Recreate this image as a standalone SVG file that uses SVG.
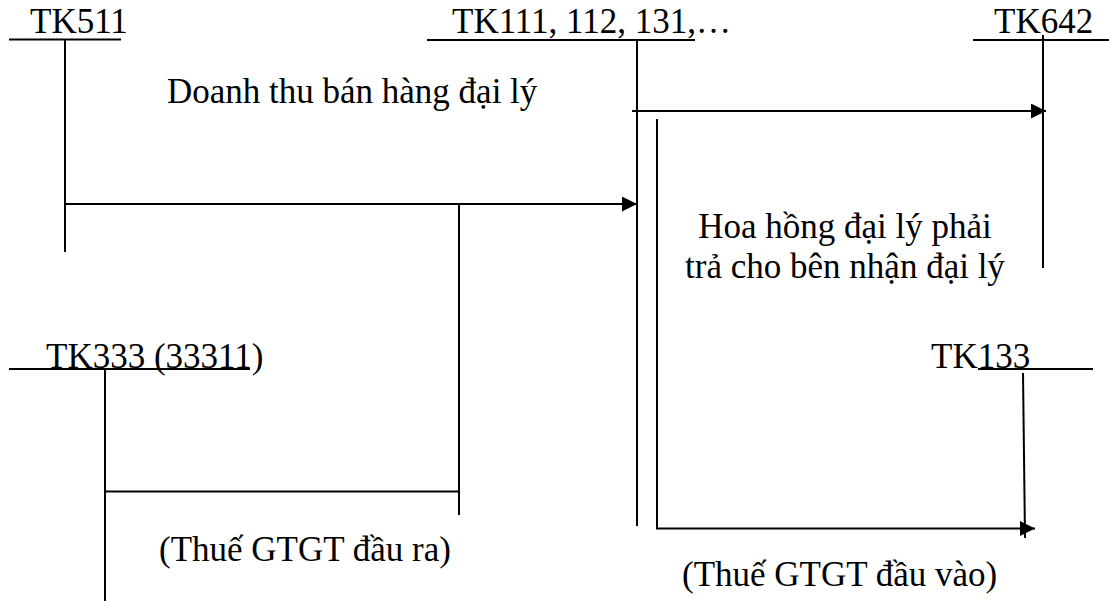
<svg xmlns="http://www.w3.org/2000/svg" width="1109" height="601" viewBox="0 0 1109 601">
<style>
text{font-family:"Liberation Serif","Times New Roman",serif;font-size:35px;fill:#000}
line,polyline{stroke:#000;stroke-width:2;fill:none}
</style>
<defs>
<marker id="arr" markerUnits="userSpaceOnUse" markerWidth="16" markerHeight="15" refX="15" refY="7.5" orient="auto">
<path d="M0,0 L15,7.5 L0,15 z" fill="#000"/>
</marker>
</defs>
<rect width="1109" height="601" fill="#fff"/>
<g id="tk511">
<text x="30" y="33">TK511</text>
<line x1="9" y1="39.5" x2="121" y2="39.5"/>
<line x1="65" y1="39.5" x2="65" y2="252"/>
</g>
<g id="tk111">
<text x="452" y="33">TK111, 112, 131,…</text>
<line x1="427" y1="40" x2="695" y2="40"/>
<line x1="637" y1="40" x2="637" y2="526"/>
</g>
<g id="tk642">
<text x="994" y="33">TK642</text>
<line x1="973" y1="40" x2="1109" y2="40"/>
<line x1="1043" y1="35" x2="1043" y2="268"/>
</g>
<g id="tk333">
<text x="46" y="368">TK333 (33311)</text>
<line x1="9" y1="369" x2="250" y2="369"/>
<line x1="105" y1="369" x2="105" y2="601"/>
</g>
<g id="tk133">
<text x="931" y="368">TK133</text>
<line x1="978" y1="369" x2="1093" y2="369"/>
<line x1="1023" y1="373" x2="1025" y2="538"/>
</g>
<g id="connectors">
<polyline points="65,204 637,204" marker-end="url(#arr)"/>
<polyline points="105,491.5 459,491.5 459,515"/>
<line x1="459" y1="204" x2="459" y2="491.5"/>
<polyline points="632,111 1046,111" marker-end="url(#arr)"/>
<polyline points="657,119 657,528.5 1035,528.5" marker-end="url(#arr)"/>
</g>
<g id="labels">
<text x="167" y="103">Doanh thu bán hàng đại lý</text>
<text x="845" y="238" text-anchor="middle">Hoa hồng đại lý phải</text>
<text x="845" y="278" text-anchor="middle">trả cho bên nhận đại lý</text>
<text x="159" y="561">(Thuế GTGT đầu ra)</text>
<text x="682" y="586">(Thuế GTGT đầu vào)</text>
</g>
</svg>
